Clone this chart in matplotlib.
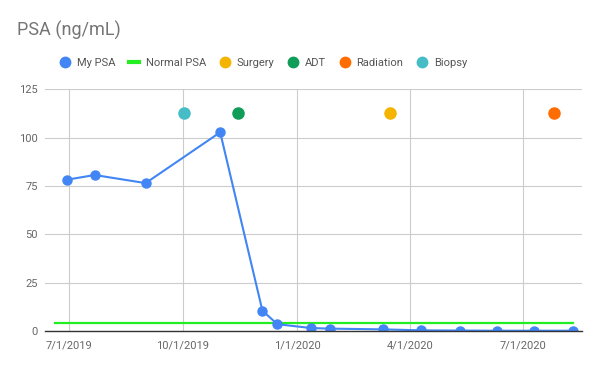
import matplotlib
matplotlib.use("Agg")
import matplotlib.pyplot as plt
import numpy as np
import pandas as pd
from matplotlib.lines import Line2D

plt.rcParams['font.family'] = ['Roboto', 'DejaVu Sans']

# Datos
psa_fechas = ['2019-06-30', '2019-07-22', '2019-09-01', '2019-10-31', '2019-12-04',
              '2019-12-16', '2020-01-12', '2020-01-27', '2020-03-10', '2020-04-10',
              '2020-05-11', '2020-06-10', '2020-07-10', '2020-08-10']
psa_valores = [78.3, 80.7, 76.5, 102.8, 10.5, 3.5, 1.5, 1.2, 0.8, 0.3, 0.2, 0.1, 0.1, 0.1]

normal_fechas = ['2019-06-20', '2020-08-10']
normal_valores = [4, 4]

eventos = ['Surgery', 'ADT', 'Radiation', 'Biopsy']
eventos_fechas = ['2020-03-16', '2019-11-14', '2020-07-26', '2019-10-02']
eventos_valores = [113, 113, 113, 113]
eventos_colores = ['#F4B400', '#0F9D58', '#FF6D00', '#46BDC6']

ticks_x = ['2019-07-01', '2019-10-01', '2020-01-01', '2020-04-01', '2020-07-01']
ticks_y = [0, 25, 50, 75, 100, 125]

azul = '#4285F4'
verde = '#22EE22'
gris_txt = '#666666'

fig = plt.figure(figsize=(6, 3.71), dpi=100)
ax = fig.add_axes([0.075, 0.108, 0.8945, 0.651])

ax.plot(pd.to_datetime(normal_fechas), normal_valores, color=verde, lw=1.6, zorder=3)
ax.plot(pd.to_datetime(psa_fechas), psa_valores, color=azul, lw=1.5, marker='o',
        markersize=6.5, zorder=4)
for nombre, f, v, c in zip(eventos, eventos_fechas, eventos_valores, eventos_colores):
    ax.plot(pd.to_datetime([f]), [v], 'o', color=c, markersize=8, zorder=4)

ax.set_xlim(pd.Timestamp('2019-06-12'), pd.Timestamp('2020-08-17'))
ax.set_ylim(0, 125)
ax.set_xticks(pd.to_datetime(ticks_x))
ax.set_xticklabels([f"{d.month}/{d.day}/{d.year}" for d in pd.to_datetime(ticks_x)])
ax.set_yticks(ticks_y)

ax.grid(True, color='#cccccc', lw=0.8)
ax.set_axisbelow(True)
for s in ['top', 'right', 'left']:
    ax.spines[s].set_visible(False)
ax.spines['bottom'].set_color('#333333')
ax.spines['bottom'].set_linewidth(1)
ax.spines['bottom'].set_zorder(5)
ax.tick_params(length=0, labelsize=8, labelcolor=gris_txt)
ax.tick_params(axis='x', pad=7)
ax.tick_params(axis='y', pad=5)

fig.text(0.028, 0.918, 'PSA (ng/mL)', fontsize=13, color='#757575', va='center')

handles = [Line2D([], [], marker='o', ls='none', color=azul, markersize=7.5),
           Line2D([], [], color=verde, lw=3)]
handles += [Line2D([], [], marker='o', ls='none', color=c, markersize=7.5) for c in eventos_colores]
labels = ['My PSA', 'Normal PSA'] + eventos
fig.legend(handles, labels, loc='center left', bbox_to_anchor=(0.1, 0.83), ncol=6,
           frameon=False, fontsize=8, labelcolor='#555555', handlelength=0.9,
           handletextpad=0.6, columnspacing=1.25, borderaxespad=0, borderpad=0)

fig.savefig('out.png', dpi=100)
